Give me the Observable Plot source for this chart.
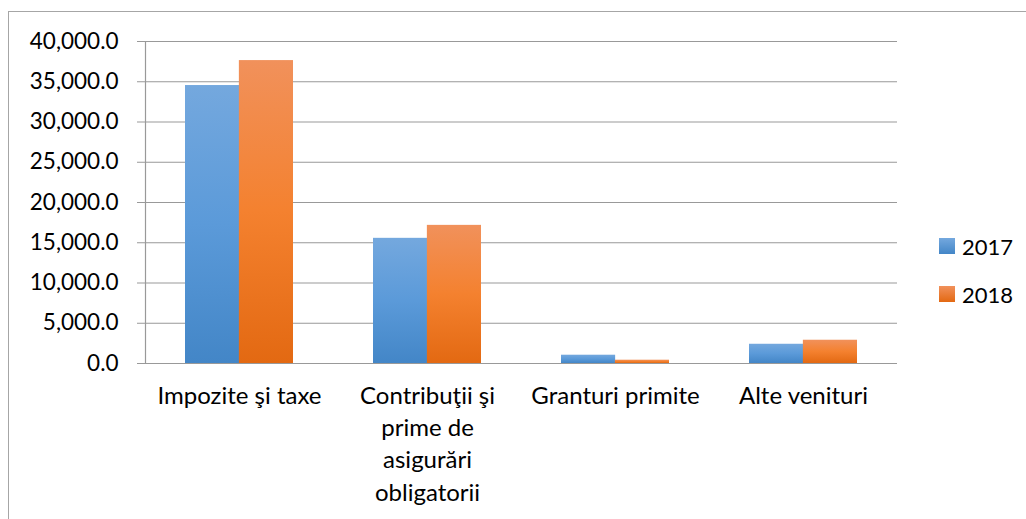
<!DOCTYPE html>
<html><head><meta charset="utf-8">
<script src="https://cdn.jsdelivr.net/npm/d3@7"></script>
<script src="https://cdn.jsdelivr.net/npm/@observablehq/plot@0.6"></script>
<style>
body{margin:0;background:#fff;}
#wrap{position:relative;width:1026px;height:519px;overflow:hidden;background:#fff;}
#frame{position:absolute;left:8px;top:11px;width:1030px;height:520px;border:1px solid #a6a6a6;box-sizing:border-box;}
#chart{position:absolute;left:0;top:0;}
#legend{position:absolute;left:939px;top:222px;font-family:Lato,"Liberation Sans",Arial,sans-serif;font-size:22px;color:#000;}
.row{display:flex;align-items:center;height:48px;}
.sw{width:16px;height:16px;margin-right:7px;}
</style></head>
<body><div id="wrap"><div id="frame"></div><div id="chart"></div><div id="legend"></div></div>
<script>
const categories = ["Impozite şi taxe", "Contribuţii şi prime de asigurări obligatorii", "Granturi primite", "Alte venituri"];
const categoryLabels = ["Impozite şi taxe", "Contribuţii şi\nprime de\nasigurări\nobligatorii", "Granturi primite", "Alte venituri"];
const years = ["2017", "2018"];
const values2017 = [34530, 15550, 1030, 2390];
const values2018 = [37630, 17160, 410, 2890];
const yTicks = [0, 5000, 10000, 15000, 20000, 25000, 30000, 35000, 40000];

const gradients = {
  "2017": ["#74a8de", "#5b9ad9", "#4386c7"],
  "2018": ["#f1915b", "#f4812f", "#e36912"]
};

const rows2017 = categories.map((c, i) => ({category: c, year: years[0], value: values2017[i]}));
const rows2018 = categories.map((c, i) => ({category: c, year: years[1], value: values2018[i]}));

const W = 1026, H = 519, mL = 145, mR = 129, mT = 41, mB = 156;
const padInner = 0.427, padOuter = padInner / 2;
const step = (W - mL - mR) / (categories.length - padInner + 2 * padOuter);
const half = step * (1 - padInner) / 2;

const chart = Plot.plot({
  width: W, height: H,
  marginLeft: mL, marginRight: mR, marginTop: mT, marginBottom: mB,
  style: {fontFamily: "Lato, 'Liberation Sans', Arial, sans-serif", color: "#000", background: "transparent"},
  x: {domain: categories, paddingInner: padInner, paddingOuter: padOuter},
  y: {domain: [0, 40000]},
  marks: [
    Plot.gridY(yTicks, {stroke: "#999", strokeOpacity: 1, strokeWidth: 1.2}),
    Plot.barY(rows2017, {x: "category", y: "value", fill: "url(#g2017)", insetRight: half}),
    Plot.barY(rows2018, {x: "category", y: "value", fill: "url(#g2018)", insetLeft: half}),
    Plot.ruleY([0], {stroke: "#999", strokeWidth: 1.2}),
    Plot.frame({anchor: "left", stroke: "#999", strokeWidth: 1.2}),
    Plot.axisY(yTicks, {tickFormat: d3.format(",.1f"), tickSize: 8, tickPadding: 19, stroke: "#999", fontSize: 22.5, label: null}),
    Plot.axisX({tickSize: 0, tickPadding: 17, fontSize: 24, lineHeight: 1.35, label: null,
      tickFormat: d => categoryLabels[categories.indexOf(d)]})
  ]
});

const defs = years.map(y => `<linearGradient id="g${y}" x1="0" y1="0" x2="0" y2="1">
  <stop offset="0" stop-color="${gradients[y][0]}"/><stop offset="0.5" stop-color="${gradients[y][1]}"/><stop offset="1" stop-color="${gradients[y][2]}"/></linearGradient>`).join("");
chart.insertAdjacentHTML("afterbegin", `<defs>${defs}</defs>`);
document.getElementById("chart").appendChild(chart);

const legend = document.getElementById("legend");
years.forEach(y => {
  const row = document.createElement("div");
  row.className = "row";
  const sw = document.createElement("div");
  sw.className = "sw";
  sw.style.background = `linear-gradient(${gradients[y][0]}, ${gradients[y][2]})`;
  const t = document.createElement("span");
  t.textContent = y;
  row.appendChild(sw); row.appendChild(t);
  legend.appendChild(row);
});
</script></body></html>
